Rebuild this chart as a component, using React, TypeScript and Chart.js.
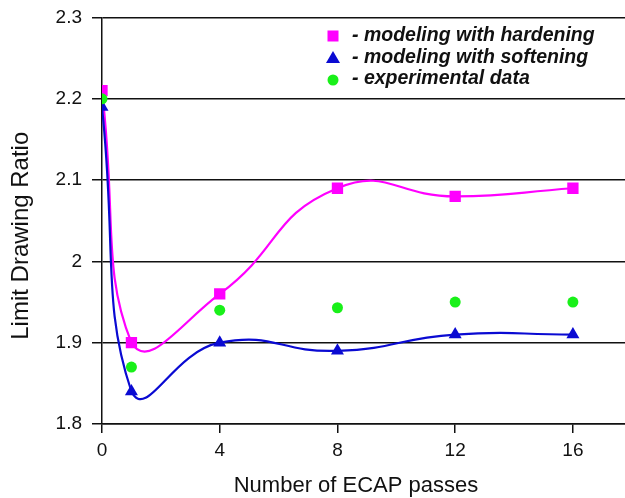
import React, { useEffect, useRef } from "react";
import { Chart, registerables } from "chart.js";

Chart.register(...registerables);

const passes = [0, 1, 4, 8, 12, 16];
const hardening = [2.21, 1.9, 1.96, 2.09, 2.08, 2.09];
const softening = [2.19, 1.84, 1.9, 1.89, 1.91, 1.91];
const experimental = [2.2, 1.87, 1.94, 1.943, 1.95, 1.95];
const xTicks = [0, 4, 8, 12, 16];
const yTicks = [1.8, 1.9, 2, 2.1, 2.2, 2.3];
const xTitle = "Number of ECAP passes";
const yTitle = "Limit Drawing Ratio";
const legendLabels = [
  "- modeling with hardening",
  "- modeling with softening",
  "- experimental data",
];

const MAGENTA = "#ff00ff";
const BLUE = "#0a0ad2";
const GREEN = "#19f019";
const FONT = "Arial, 'Liberation Sans', sans-serif";

const legendPlugin = {
  id: "insideLegend",
  afterDraw(chart: any) {
    const ctx = chart.ctx as CanvasRenderingContext2D;
    const a = chart.chartArea;
    const mx = a.left + 231;
    const tx = a.left + 250;
    const y0 = a.top + 18.5;
    const dy = 21.5;
    ctx.save();
    ctx.fillStyle = MAGENTA;
    ctx.fillRect(mx - 5.5, y0 - 5.5, 11, 11);
    ctx.fillStyle = BLUE;
    ctx.beginPath();
    ctx.moveTo(mx, y0 + dy - 6.5);
    ctx.lineTo(mx + 7, y0 + dy + 5.5);
    ctx.lineTo(mx - 7, y0 + dy + 5.5);
    ctx.closePath();
    ctx.fill();
    ctx.fillStyle = GREEN;
    ctx.beginPath();
    ctx.arc(mx, y0 + 2 * dy + 1, 5.5, 0, Math.PI * 2);
    ctx.fill();
    ctx.fillStyle = "#111";
    ctx.font = `italic bold 19.5px ${FONT}`;
    ctx.textBaseline = "middle";
    ctx.textAlign = "left";
    legendLabels.forEach((t, i) => ctx.fillText(t, tx, y0 + i * dy));
    // x axis title
    ctx.font = `22px ${FONT}`;
    ctx.textAlign = "center";
    ctx.textBaseline = "middle";
    ctx.fillText(xTitle, 356, 486);
    // y axis title
    ctx.font = `24px ${FONT}`;
    ctx.translate(21, (a.top + a.bottom) / 2 + 15);
    ctx.rotate(-Math.PI / 2);
    ctx.fillText(yTitle, 0, 0);
    ctx.restore();
  },
};

export default function App() {
  const ref = useRef<HTMLCanvasElement>(null);
  useEffect(() => {
    document.body.style.margin = "0";
    const mk = (ys: number[]) => passes.map((x, i) => ({ x, y: ys[i] }));
    const chart = new Chart(ref.current!, {
      type: "scatter",
      data: {
        datasets: [
          {
            label: "experimental data",
            data: mk(experimental),
            showLine: false,
            pointStyle: "circle",
            pointRadius: 5.5,
            backgroundColor: GREEN,
            borderColor: GREEN,
            borderWidth: 0,
          },
          {
            label: "modeling with softening",
            data: mk(softening),
            showLine: true,
            tension: 0.5,
            borderColor: BLUE,
            borderWidth: 2.2,
            pointStyle: "triangle",
            pointRadius: 7.5,
            pointBackgroundColor: BLUE,
            pointBorderColor: BLUE,
            pointBorderWidth: 0,
          },
          {
            label: "modeling with hardening",
            data: mk(hardening),
            showLine: true,
            tension: 0.5,
            borderColor: MAGENTA,
            borderWidth: 2.2,
            pointStyle: "rect",
            pointRadius: 8,
            pointBackgroundColor: MAGENTA,
            pointBorderColor: MAGENTA,
            pointBorderWidth: 0,
          },
        ],
      },
      options: {
        animation: false,
        responsive: false,
        layout: { autoPadding: false, padding: { top: 17.5, left: 0, right: 0, bottom: 0 } },
        plugins: {
          legend: { display: false },
          tooltip: { enabled: false },
        },
        scales: {
          x: {
            type: "linear",
            min: 0,
            max: 17.77,
            afterBuildTicks: (s: any) => {
              s.ticks = xTicks.map((v) => ({ value: v }));
            },
            afterFit: (s: any) => {
              s.height = 74;
              s.paddingRight = 0;
              s.paddingLeft = 0;
            },
            grid: {
              drawOnChartArea: false,
              drawTicks: true,
              tickLength: 9,
              color: "#111",
              lineWidth: 1.5,
            },
            border: { display: true, color: "#111", width: 1.5 },
            ticks: {
              color: "#111",
              font: { family: FONT, size: 19 },
              padding: 6,
              callback: (v: any) => String(v),
            },
            title: { display: false },
          },
          y: {
            type: "linear",
            min: 1.8,
            max: 2.3,
            afterBuildTicks: (s: any) => {
              s.ticks = yTicks.map((v) => ({ value: v }));
            },
            afterFit: (s: any) => {
              s.width = 102;
              s.paddingTop = 0;
              s.paddingBottom = 0;
            },
            grid: {
              drawOnChartArea: true,
              drawTicks: true,
              tickLength: 10,
              color: "#111",
              lineWidth: 1.5,
            },
            border: { display: true, color: "#111", width: 1.5 },
            ticks: {
              color: "#111",
              font: { family: FONT, size: 19 },
              padding: 10,
              callback: (v: any) => String(Math.round(v * 10) / 10),
            },
            title: { display: false },
          },
        },
      },
      plugins: [legendPlugin],
    });
    return () => chart.destroy();
  }, []);
  return (
    <div style={{ position: "fixed", left: 0, top: 0, width: 625, height: 498, background: "#fff" }}>
      <canvas ref={ref} width={625} height={498} />
    </div>
  );
}
